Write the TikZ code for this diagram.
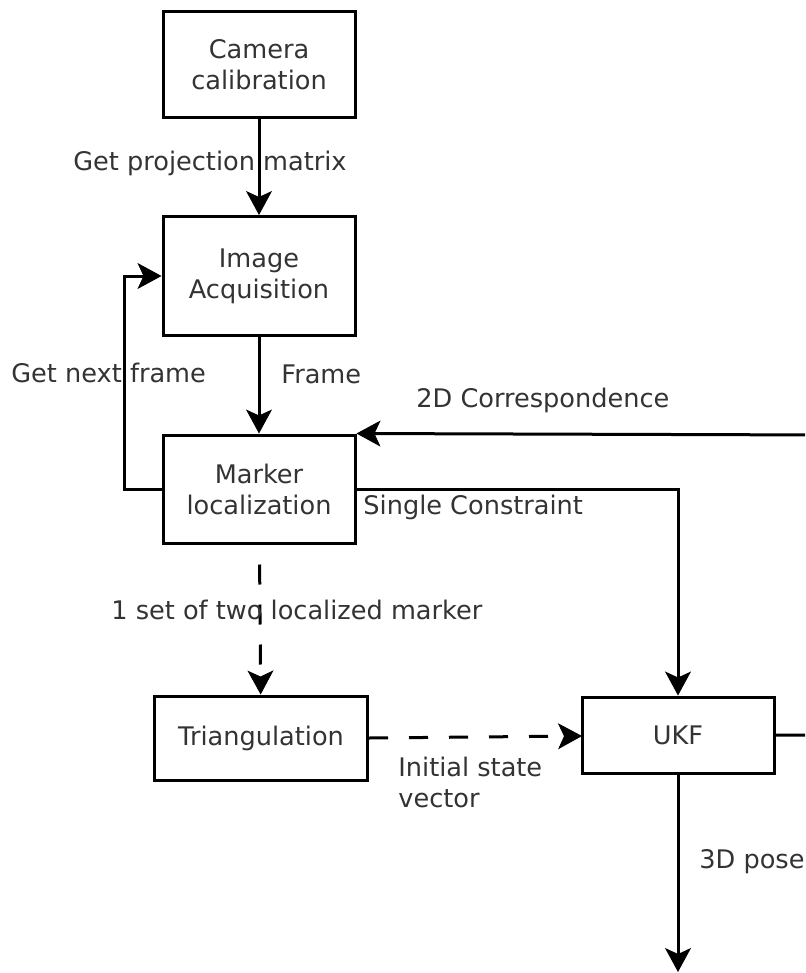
\documentclass[tikz,border=0pt]{standalone}
\usepackage{fontspec}
\setmainfont{DejaVu Sans}
\usetikzlibrary{arrows.meta}

\begin{document}
\begin{tikzpicture}[x=0.5pt, y=-0.5pt,
  every node/.style={font=\fontsize{12.8}{15.5}\selectfont, text=black!80},
  block/.style={draw=black, line width=1.5pt, align=center, inner sep=0pt},
  lbl/.style={anchor=west, inner sep=1pt},
  flow/.style={draw=black, line width=1.5pt, -{Stealth[length=12pt, width=13pt, inset=3pt, line width=0.5pt]}},
  dashflow/.style={flow, dash pattern=on 10pt off 10pt, dash phase=10pt},
  dashflowb/.style={flow, dash pattern=on 9.5pt off 10.5pt}]
  % Marco
  \useasboundingbox (0,0) rectangle (805,973);
  \clip (0,0) rectangle (805,973);

  % Bloques
  \node[block, minimum width=96pt, minimum height=53pt]   (calib)  at (259,65)  {Camera\\calibration};
  \node[block, minimum width=96pt, minimum height=59.5pt] (acq)    at (259,276) {Image\\Acquisition};
  \node[block, minimum width=96pt, minimum height=54pt]   (marker) at (259,489) {Marker\\localization};
  \node[block, minimum width=106.5pt, minimum height=42pt] (triang) at (261,738) {Triangulation};
  \node[block, minimum width=96pt, minimum height=38pt]   (ukf)    at (678,735) {UKF};

  % Puntos auxiliares
  \coordinate (loopleft) at (124,489);
  \coordinate (rightturn) at (830,435);
  \coordinate (initend) at (582,736);
  \coordinate (poseout) at (678,972);

  % Flechas
  \draw[flow] (calib) -- (acq);
  \draw[flow] (acq) -- (marker);
  \draw[flow] (marker.west) -- (loopleft) |- (acq.west);
  \draw[flow] (ukf.east) -| (rightturn) -- (marker.north east);
  \draw[flow] (marker.east) -| (ukf.north);
  \draw[dashflow] (marker) -- (triang);
  \draw[dashflowb] (triang.east) -- (initend);
  \draw[flow] (ukf) -- (poseout);

  % Etiquetas
  \node[lbl] (lblproj)   at (71,163)  {Get projection matrix};
  \node[lbl] (lblframe)  at (279,374) {Frame};
  \node[lbl] (lblnext)   at (9,373)   {Get next frame};
  \node[lbl] (lblcorr)   at (414,400) {2D Correspondence};
  \node[lbl] (lblsingle) at (361,507) {Single Constraint};
  \node[lbl] (lblset)    at (109,610) {1 set of two localized marker};
  \node[lbl, align=left] (lblinit) at (396,782) {Initial state\\vector};
  \node[lbl] (lblpose)   at (697,862) {3D pose};
\end{tikzpicture}
\end{document}
